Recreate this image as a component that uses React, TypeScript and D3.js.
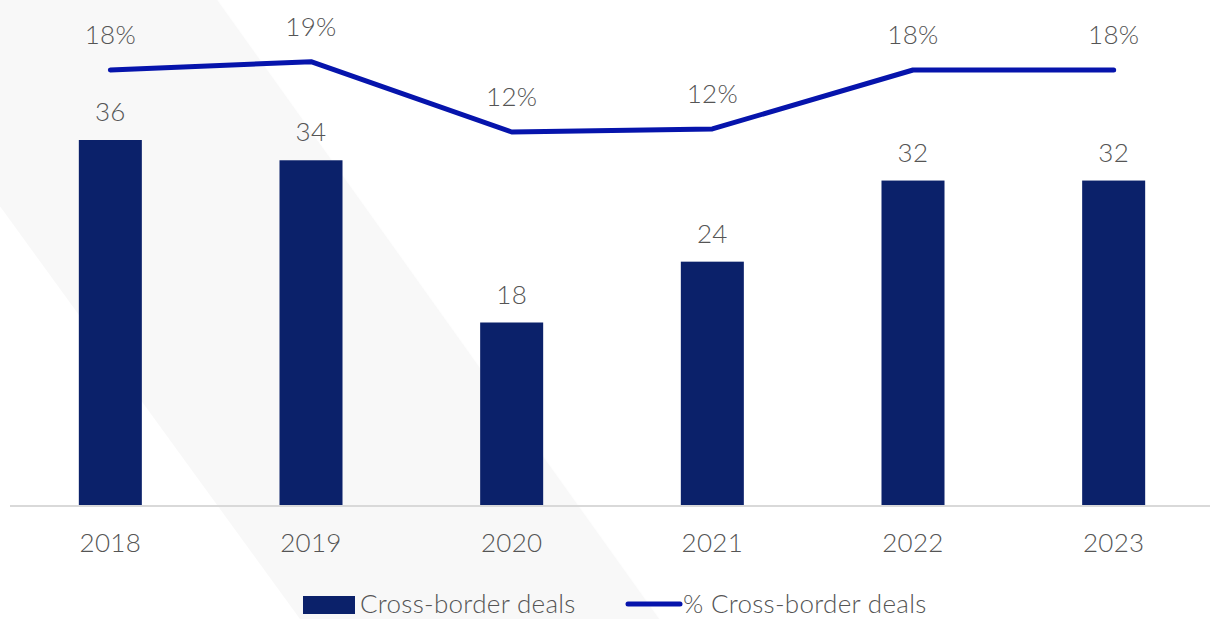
import React from "react";
import * as d3 from "d3";

const years = ["2018", "2019", "2020", "2021", "2022", "2023"];
const deals = [36, 34, 18, 24, 32, 32];
const pctDeals = [18, 18.8, 12, 12.3, 18, 18];

const W = 1210;
const H = 619;
const BAR_COLOR = "#0b216a";
const LINE_COLOR = "#0614ac";
const TEXT_COLOR = "#555555";
const FONT = "Lato, 'Open Sans', sans-serif";
const FS = 26;

export default function App() {
  const x = d3.scaleBand<string>().domain(years).range([10, 1214]).paddingInner(0.686).paddingOuter(0.343);
  const yBar = d3.scaleLinear().domain([0, 36]).range([505, 140]);
  const yLine = d3.scaleLinear().domain([12, 18]).range([132, 70]);
  const cx = (d: string) => (x(d) as number) + x.bandwidth() / 2;

  const line = d3
    .line<number>()
    .x((_, i) => cx(years[i]))
    .y((v) => yLine(v));

  const textProps = {
    fontSize: FS,
    fontWeight: 300,
    fill: TEXT_COLOR,
    letterSpacing: 0.3,
  };

  return (
    <svg
      width={W}
      height={H}
      style={{ position: "absolute", left: 0, top: 0, display: "block" }}
      fontFamily={FONT}
    >
      <rect x={0} y={0} width={W} height={H} fill="#ffffff" />
      <polygon points="-150,0 218,0 660,619 300,619" fill="#f8f8f8" />
      <line x1={218} y1={0} x2={660} y2={619} stroke="#ffffff" strokeWidth={1.5} opacity={0.8} />

      {years.map((yr, i) => (
        <rect
          key={yr}
          x={x(yr)}
          y={yBar(deals[i])}
          width={x.bandwidth()}
          height={yBar(0) - yBar(deals[i])}
          fill={BAR_COLOR}
        />
      ))}

      <line x1={10} x2={1210} y1={506} y2={506} stroke="#d9d9d9" strokeWidth={2} />

      {years.map((yr, i) => (
        <text key={"bl" + yr} x={cx(yr)} y={yBar(deals[i]) - 19} textAnchor="middle" {...textProps}>
          {deals[i]}
        </text>
      ))}

      <path
        d={line(pctDeals) || ""}
        fill="none"
        stroke={LINE_COLOR}
        strokeWidth={5}
        strokeLinecap="round"
        strokeLinejoin="round"
      />

      {years.map((yr, i) => (
        <text key={"ll" + yr} x={cx(yr)} y={yLine(pctDeals[i]) - 26} textAnchor="middle" {...textProps}>
          {Math.round(pctDeals[i]) + "%"}
        </text>
      ))}

      {years.map((yr) => (
        <text key={"ax" + yr} x={cx(yr)} y={552} textAnchor="middle" {...textProps}>
          {yr}
        </text>
      ))}

      <g>
        <rect x={303} y={596} width={52} height={18} fill={BAR_COLOR} />
        <text x={360} y={613} {...textProps}>
          Cross-border deals
        </text>
        <line x1={628} x2={680} y1={604} y2={604} stroke={LINE_COLOR} strokeWidth={5} strokeLinecap="round" />
        <text x={683} y={613} {...textProps}>
          % Cross-border deals
        </text>
      </g>
    </svg>
  );
}
